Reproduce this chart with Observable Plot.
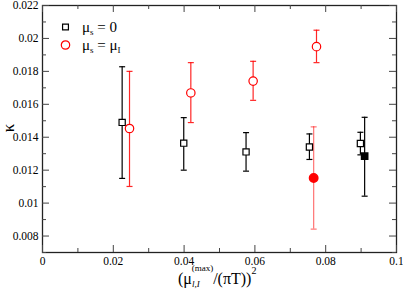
<!DOCTYPE html>
<html><head><meta charset="utf-8">
<script src="https://cdn.jsdelivr.net/npm/d3@7"></script>
<script src="https://cdn.jsdelivr.net/npm/@observablehq/plot@0.6"></script>
<style>body{margin:0;background:#fff}svg{display:block}</style>
</head><body><div id="chart"></div>
<script>
// μs = 0 (open squares)
const xSq = [0.0225, 0.0399, 0.0575, 0.0754, 0.0898];
const kSq = [0.0149, 0.01364, 0.01311, 0.01341, 0.01362];
const loSq = [0.0115, 0.0120, 0.01194, 0.01265, 0.01293];
const hiSq = [0.01828, 0.01519, 0.01428, 0.0142, 0.0143];
// filled square
const xSqF = [0.091];
const kSqF = [0.01285];
const loSqF = [0.01042];
const hiSqF = [0.01521];
// μs = μI (open circles)
const xCi = [0.02458, 0.0419, 0.0595, 0.0774];
const kCi = [0.01453, 0.01669, 0.01741, 0.0195];
const loCi = [0.01101, 0.01489, 0.01624, 0.01853];
const hiCi = [0.0180, 0.01853, 0.01861, 0.0205];
// filled circle
const xCiF = [0.0766];
const kCiF = [0.01152];
const loCiF = [0.00842];
const hiCiF = [0.01463];

const xMajor = [0, 0.02, 0.04, 0.06, 0.08, 0.1];
const xMinor = [0.01, 0.03, 0.05, 0.07, 0.09];
const yMajor = [0.008, 0.01, 0.012, 0.014, 0.016, 0.018, 0.02, 0.022];
const yMinor = [0.007, 0.009, 0.011, 0.013, 0.015, 0.017, 0.019, 0.021];

const rows = (xs, ks, los, his) => xs.map((x, i) => ({x, k: ks[i], lo: los[i], hi: his[i]}));
const sq = rows(xSq, kSq, loSq, hiSq);
const sqF = rows(xSqF, kSqF, loSqF, hiSqF);
const ci = rows(xCi, kCi, loCi, hiCi);
const ciF = rows(xCiF, kCiF, loCiF, hiCiF);

const W = 403, H = 292, mL = 42, mR = 7, mT = 5, mB = 40;
const pw = W - mL - mR, ph = H - mT - mB;
const cap = {draw(ctx, size) { const r = Math.sqrt(size / Math.PI); ctx.moveTo(-r, 0); ctx.lineTo(r, 0); }};
const fmt = d => String(+d.toFixed(4));
const font = "'Liberation Serif', 'DejaVu Serif', serif";

function errMarks(data, color, opacity) {
  return [
    Plot.ruleX(data, {x: "x", y1: "lo", y2: "hi", stroke: color, strokeWidth: 1.2, strokeOpacity: opacity}),
    Plot.dot(data, {x: "x", y: "lo", symbol: cap, r: 3, stroke: color, strokeWidth: 1.2, strokeOpacity: opacity}),
    Plot.dot(data, {x: "x", y: "hi", symbol: cap, r: 3, stroke: color, strokeWidth: 1.2, strokeOpacity: opacity})
  ];
}

const chart = Plot.plot({
  width: W, height: H,
  marginLeft: mL, marginRight: mR, marginTop: mT, marginBottom: mB,
  style: {fontFamily: font, fontSize: "11.5px", color: "#000", background: "#fff"},
  x: {domain: [0, 0.1], ticks: xMajor, tickFormat: fmt, tickSize: 0, tickPadding: 4, label: null},
  y: {domain: [0.007, 0.022], ticks: yMajor, tickFormat: fmt, tickSize: 0, tickPadding: 4, label: null},
  marks: [
    Plot.frame({stroke: "#222", strokeWidth: 1.3}),
    // inward ticks on all four sides
    Plot.tickX(xMajor, {x: d => d, insetTop: ph - 7, stroke: "#444"}),
    Plot.tickX(xMinor, {x: d => d, insetTop: ph - 4, stroke: "#444"}),
    Plot.tickX(xMajor, {x: d => d, insetBottom: ph - 7, stroke: "#444"}),
    Plot.tickX(xMinor, {x: d => d, insetBottom: ph - 4, stroke: "#444"}),
    Plot.tickY(yMajor, {y: d => d, insetRight: pw - 7, stroke: "#444"}),
    Plot.tickY(yMinor, {y: d => d, insetRight: pw - 4, stroke: "#444"}),
    Plot.tickY(yMajor, {y: d => d, insetLeft: pw - 7, stroke: "#444"}),
    Plot.tickY(yMinor, {y: d => d, insetLeft: pw - 4, stroke: "#444"}),
    ...errMarks(sq, "#000", 1),
    ...errMarks(sqF, "#000", 1),
    ...errMarks(ci, "#ff0000", 0.85),
    ...errMarks(ciF, "#ff0000", 0.55),
    Plot.dot(sq, {x: "x", y: "k", symbol: "square", r: 3.5, stroke: "#000", fill: "#fff", strokeWidth: 1.2}),
    Plot.dot(sqF, {x: "x", y: "k", symbol: "square", r: 3.5, fill: "#000", stroke: "#000"}),
    Plot.dot(ci, {x: "x", y: "k", symbol: "circle", r: 4.2, stroke: "#ff0000", fill: "#fff", strokeWidth: 1.2}),
    Plot.dot(ciF, {x: "x", y: "k", symbol: "circle", r: 4.2, fill: "#ff0000", stroke: "#ff0000"}),
    // legend symbols
    Plot.dot([0], {frameAnchor: "top-left", dx: 23, dy: 21.5, symbol: "square", r: 3.3, stroke: "#000", fill: "#fff", strokeWidth: 1.2}),
    Plot.dot([0], {frameAnchor: "top-left", dx: 23, dy: 39.5, symbol: "circle", r: 4.2, stroke: "#ff0000", fill: "#fff", strokeWidth: 1.2})
  ]
});

const svg = d3.select(chart);
function rich(x, y, parts, size, anchor) {
  const t = svg.append("text").attr("x", x).attr("y", y)
    .style("font-family", font).attr("font-size", size).attr("fill", "#000")
    .attr("text-anchor", anchor || "start");
  parts.forEach(p => {
    const s = t.append("tspan").text(p.t);
    if (p.dy) s.attr("dy", p.dy);
    if (p.dx) s.attr("dx", p.dx);
    if (p.size) s.attr("font-size", p.size);
    if (p.italic) s.style("font-style", "italic");
  });
  return t;
}
// legend text
rich(82, 31.5, [{t: "μ"}, {t: "s", size: 9, dy: 3}, {t: " = 0", dy: -3}], 15);
rich(82, 49.5, [{t: "μ"}, {t: "s", size: 9, dy: 3}, {t: " = μ", dy: -3}, {t: "I", size: 9, dy: 3}], 15);
// x-axis label
rich(178, 284, [
  {t: "(μ"}, {t: "l,I", size: 9, dy: 3, italic: true},
  {t: "(max)", size: 9, dy: -16, dx: -8},
  {t: "/(πT))", dy: 13}, {t: "2", size: 10, dy: -10}
], 16, "start");
// y-axis label
svg.append("text").attr("transform", "translate(14,128) rotate(-90)")
  .attr("text-anchor", "middle").style("font-family", font).attr("font-size", 17).text("κ");
svg.selectAll("text").style("font-family", font);

document.getElementById("chart").appendChild(chart);
</script>
</body></html>
